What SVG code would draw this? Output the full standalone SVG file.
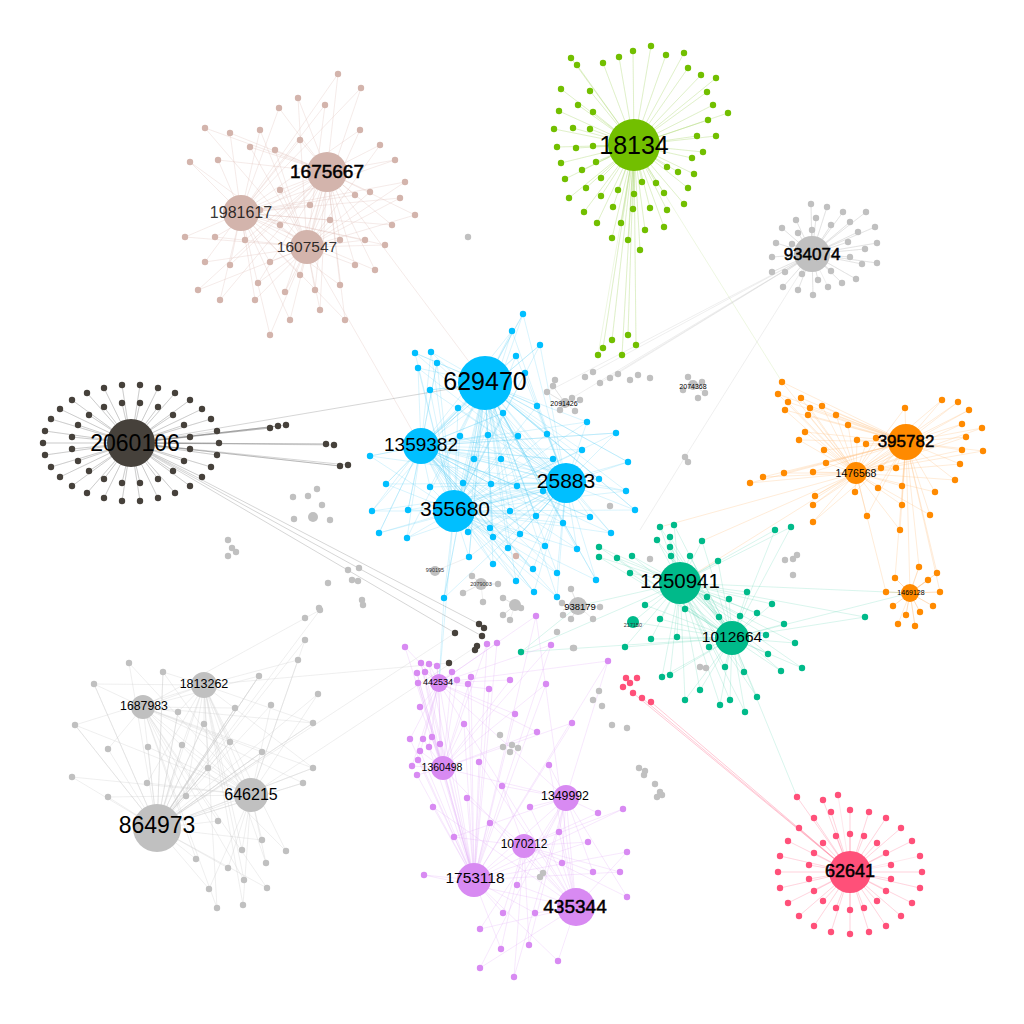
<svg xmlns="http://www.w3.org/2000/svg" width="1024" height="1024" viewBox="0 0 1024 1024">
<style>
.e{fill:none;stroke-width:.6}
.eg{stroke:#9fd060;stroke-opacity:.3}
.eb{stroke:#5fd0f5;stroke-opacity:.4}
.er{stroke:#dcbcb5;stroke-opacity:.5}
.ed{stroke:#777;stroke-opacity:.35}
.el{stroke:#777;stroke-opacity:.5}
.eo{stroke:#ffc080;stroke-opacity:.5}
.et{stroke:#5fd6b2;stroke-opacity:.4}
.ev{stroke:#e2a8f8;stroke-opacity:.45}
.ep{stroke:#ff7f9d;stroke-opacity:.3}
.epl{stroke:#ff7f9d;stroke-opacity:.7}
.ex{stroke:#c8c8c8;stroke-opacity:.5}
.sat circle{r:3.2px}
.sg{fill:#72bf00}.sb{fill:#00bfff}.sr{fill:#d3b4ac}.sd{fill:#46413b}.so{fill:#ff8a00}.st{fill:#00ba8a}.sv{fill:#d88af2}.sp{fill:#ff5079}.sx{fill:#c0c0c0}
.t{font-family:"Liberation Sans",Arial,sans-serif;text-anchor:middle;dominant-baseline:central;fill:#000}
.b{stroke:#000;stroke-width:.5}
.sm{fill:#333}
</style>
<rect width="1024" height="1024" fill="#fff"/>
<g id="connectors">
<path class="e eg" d="M634 145L571 58L634 145L577 65L634 145L603 63L634 145L619 57L634 145L633 51L634 145L651 46L634 145L666 55L634 145L684 53L634 145L688 68L634 145L701 75L634 145L716 78L634 145L707 92L634 145L713 105L634 145L728 113L634 145L708 120L634 145L716 136L634 145L697 136L634 145L703 152L634 145L692 158L634 145L694 174L634 145L688 188L634 145L684 204L634 145L678 172L634 145L667 167L634 145L656 183L634 145L664 193L634 145L667 210L634 145L664 227L634 145L650 208L634 145L634 194L634 145L642 182L634 145L633 209L634 145L621 223L634 145L613 207L634 145L618 190L634 145L601 196L634 145L584 212L634 145L597 223L634 145L569 198L634 145L586 188L634 145L565 179L634 145L582 170L634 145L601 178L634 145L596 162L634 145L561 163L634 145L576 148L634 145L557 147L634 145L593 146L634 145L554 129L634 145L573 128L634 145L590 129L634 145L559 111L634 145L578 105L634 145L593 112L634 145L561 89L634 145L590 91L634 145L645 230L634 145L628 240L634 145L612 238L634 145L640 250L634 145L603 348L634 145L612 340L634 145L622 355L634 145L636 345L634 145L628 335L634 145L598 355M634 145L782 382"/>
<path class="e er" d="M327 172L338 74L241 213L361 88L307 247L298 98L327 172L279 108L241 213L325 105L307 247L205 128L327 172L230 133L241 213L260 130L307 247L250 147L327 172L218 160L241 213L190 162L307 247L275 150L327 172L300 140L241 213L360 130L307 247L380 145L327 172L395 160L241 213L405 182L307 247L370 192L327 172L355 195L241 213L400 198L307 247L415 215L327 172L392 225L241 213L365 240L307 247L355 265L327 172L340 285L241 213L185 237L307 247L215 237L327 172L245 240L241 213L270 262L307 247L258 283L327 172L230 265L241 213L205 262L307 247L198 290L327 172L220 300L241 213L255 300L307 247L285 292L327 172L290 320L241 213L270 335L307 247L320 310L327 172L345 320L241 213L260 210L307 247L280 190L327 172L310 205L241 213L330 220L307 247L340 240L327 172L280 225L241 213L300 275L307 247L315 290L327 172L375 270L241 213L385 245L307 247M327 172L241 213L307 247L327 172M327 172L485 383M307 247L421 446"/>
<path class="e eb" d="M485 383L523 314L454 511L512 331L566 483L540 345L421 446L516 356L485 383L415 353L454 511L431 352L566 483L437 363L421 446L418 368L485 383L430 390L454 511L458 408L566 483L503 413L421 446L525 373L485 383L537 406L454 511L587 422L566 483L616 433L421 446L582 450L485 383L547 434L454 511L518 436L566 483L488 435L421 446L460 436L485 383L474 459L454 511L501 459L566 483L553 459L421 446L599 479L485 383L628 462L454 511L463 483L566 483L491 484L421 446L517 486L485 383L543 491L454 511L430 487L566 483L408 510L421 446L510 511L485 383L536 516L454 511L563 523L566 483L590 517L421 446L611 533L485 383L635 510L454 511L468 532L566 483L490 528L421 446L520 534L485 383L386 484L454 511L372 511L566 483L379 533L421 446L407 538L485 383L493 537L454 511L508 548L566 483L545 546L421 446L577 549L485 383L469 557L454 511L493 564L566 483L533 569L421 446L557 573L485 383L596 580L454 511L516 581L566 483L534 592L421 446L557 597L485 383L444 598L454 511L626 491L566 483L370 456L421 446"/>
<path class="e eb" d="M566 483L523 314L485 383L512 331L421 446L540 345L454 511L516 356L566 483L415 353L485 383L431 352L421 446L437 363L454 511L418 368L566 483L430 390L485 383L458 408L421 446L503 413L454 511L525 373L566 483L537 406L485 383L587 422L421 446L616 433L454 511L582 450L566 483L547 434L485 383L518 436L421 446L488 435L454 511L460 436L566 483L474 459L485 383L501 459L421 446L553 459L454 511L599 479L566 483L628 462L485 383L463 483L421 446L491 484L454 511L517 486L566 483L543 491L485 383L430 487L421 446L408 510L454 511L510 511L566 483L536 516L485 383L563 523L421 446L590 517L454 511L611 533L566 483L635 510L485 383L468 532L421 446L490 528L454 511L520 534L566 483L386 484L485 383L372 511L421 446L379 533L454 511L407 538L566 483L493 537L485 383L508 548L421 446L545 546L454 511L577 549L566 483L469 557L485 383L493 564L421 446L533 569L454 511L557 573L566 483L596 580L485 383L516 581L421 446L534 592L454 511L557 597L566 483L444 598L485 383L626 491L421 446L370 456L454 511M485 383L421 446L454 511L566 483L485 383L454 511M421 446L566 483M454 511L439 683M444 598L439 683"/>
<path class="e ed" d="M131 443L219 443L131 443L217 455L131 443L211 467L131 443L202 477L131 443L190 486L131 443L175 493L131 443L158 498L131 443L140 501L131 443L122 501L131 443L104 498L131 443L87 493L131 443L72 486L131 443L60 477L131 443L51 467L131 443L45 455L131 443L43 443L131 443L45 431L131 443L51 419L131 443L60 409L131 443L72 400L131 443L87 393L131 443L104 388L131 443L122 385L131 443L140 385L131 443L158 388L131 443L175 393L131 443L190 400L131 443L202 409L131 443L211 419L131 443L217 431M131 443L190 449L131 443L184 461L131 443L173 471L131 443L158 479L131 443L140 483L131 443L122 483L131 443L104 479L131 443L89 471L131 443L78 461L131 443L72 449L131 443L72 437L131 443L78 425L131 443L89 415L131 443L104 407L131 443L122 403L131 443L140 403L131 443L158 407L131 443L173 415L131 443L184 425L131 443L190 437"/>
<path class="e el" d="M131 443L270 428L131 443L278 426L131 443L286 425M131 443L326 444L131 443L334 445M131 443L340 466L131 443L348 465M131 443L455 633M131 443L479 624M131 443L482 636M131 443L485 383"/>
<path class="e eo" d="M906 442L782 382L856 473L778 394L906 442L788 402L856 473L801 398L906 442L785 410L856 473L810 408L906 442L822 406L856 473L808 415L906 442L836 415L856 473L848 425L906 442L805 432L856 473L799 440L906 442L824 450L856 473L857 440L906 442L866 444L856 473L876 438L906 442L905 408L856 473L942 400L906 442L958 402L856 473L969 410L906 442L962 424L856 473L982 428L906 442L966 437L856 473L962 450L906 442L983 451L856 473L960 464L906 442L896 468L856 473L881 468L906 442L878 488L856 473L902 486L906 442L902 505L856 473L855 492L906 442L815 496L856 473L826 463L906 442L813 472L856 473L784 473L906 442L763 477L856 473L750 483L906 442L813 505L856 473L813 522L906 442L867 516L856 473L930 515L906 442L900 530L856 473L955 480L906 442L935 492L856 473M910 593L919 567L910 593L937 573L910 593L895 578L910 593L928 580L910 593L940 592L910 593L933 606L910 593L920 612L910 593L906 615L910 593L893 606L910 593L886 592L910 593L915 626L910 593L898 624M906 442L919 567M906 442L937 573M906 442L895 578M856 473L886 592M906 442L940 592M906 442L910 593M856 473L680 583M856 473L702 541M856 473L660 527"/>
<path class="e et" d="M680 583L660 527L732 638L674 525L680 583L702 541L732 638L775 530L680 583L791 527L732 638L599 547L680 583L599 557L732 638L617 558L680 583L632 556L732 638L657 540L680 583L670 537L732 638L670 547L680 583L671 556L732 638L690 556L680 583L718 561L732 638L630 573L680 583L747 592L732 638L729 599L680 583L707 597L732 638L645 605L680 583L660 619L732 638L685 609L680 583L719 617L732 638L740 616L680 583L757 613L732 638L772 604L680 583L865 617L732 638L784 624L680 583L766 635L732 638L795 643L680 583L768 654L732 638L802 668L680 583L781 671L732 638L744 672L680 583L725 667L732 638L709 647L680 583L677 637L732 638L651 639L680 583L633 622L732 638L625 647L680 583L662 677L732 638L670 675L680 583L720 705L732 638L745 712L680 583L757 697L732 638L700 690L680 583L685 700L732 638L730 700L680 583L521 652L732 638M680 583L732 638M680 583L578 606M680 583L910 593M732 638L910 593M732 638L797 797M578 606L521 652"/>
<path class="e ev" d="M439 683L405 647L443 768L487 644L474 880L497 643L439 683L551 645L443 768L421 663L474 880L429 664L439 683L437 666L443 768L417 673L474 880L425 672L439 683L452 672L443 768L471 677L474 880L468 684L439 683L457 680L443 768L418 683L474 880L489 689L439 683L510 680L443 768L546 684L474 880L608 661L439 683L420 707L443 768L464 724L474 880L515 714L439 683L537 732L443 768L572 723L474 880L410 739L439 683L423 739L443 768L432 737L474 880L429 747L439 683L440 744L443 768L420 751L474 880L418 760L439 683L412 766L443 768L417 775L474 880L536 616L439 683M474 880L479 762L576 907L549 765L566 798L502 786L524 846L467 798L474 880L433 807L576 907L530 807L566 798L598 813L524 846L623 809L474 880L490 823L576 907L559 832L566 798L454 837L524 846L588 842L474 880L627 852L576 907L562 863L566 798L593 872L524 846L620 872L474 880L424 875L576 907L517 885L566 798L627 897L524 846L503 913L474 880L535 913L576 907L480 929L566 798L529 945L524 846L501 949L474 880L558 961L576 907L480 968L566 798L514 977L524 846M439 683L474 880M439 683L576 907M443 768L474 880M443 768L576 907M443 768L566 798M566 798L576 907M524 846L474 880M524 846L576 907M566 798L474 880M439 683L566 798M566 798L608 661M576 907L536 616M474 880L551 645"/>
<path class="e ep" d="M850 872L922 872L850 872L920 888L850 872L912 903L850 872L901 916L850 872L886 926L850 872L869 932L850 872L850 934L850 872L831 932L850 872L814 926L850 872L799 916L850 872L788 903L850 872L780 888L850 872L778 872L850 872L780 856L850 872L788 841L850 872L799 828L850 872L814 818L850 872L831 812L850 872L850 810L850 872L869 812L850 872L886 818L850 872L901 828L850 872L912 841L850 872L920 856M850 872L891 879L850 872L886 891L850 872L877 901L850 872L864 908L850 872L850 910L850 872L836 908L850 872L823 901L850 872L814 891L850 872L809 879L850 872L809 865L850 872L814 853L850 872L823 843L850 872L836 836L850 872L850 834L850 872L864 836L850 872L877 843L850 872L886 853L850 872L891 865M850 872L797 797L850 872L823 800L850 872L838 795"/>
<path class="e epl" d="M850 872L651 702M850 872L642 698M850 872L633 693"/>
<path class="e ex" d="M157 828L129 663L251 795L163 672L204 685L94 684L143 707L259 676L157 828L318 694L251 795L75 725L204 685L178 712L143 707L235 708L157 828L271 705L251 795L204 724L204 685L313 723L143 707L108 749L157 828L148 747L251 795L182 745L204 685L230 742L143 707L262 752L157 828L72 777L251 795L208 768L204 685L313 768L143 707L303 783L157 828L108 797L251 795L147 783L204 685L186 796L143 707L218 821L157 828L262 840L251 795L242 850L204 685L286 851L143 707L196 859L157 828L228 868L251 795L266 863L204 685L244 880L143 707L267 888L157 828L209 889L251 795L243 905L204 685L217 908L143 707L320 610L157 828L305 640L251 795L298 660L204 685M157 828L163 672L157 828L94 684L157 828L259 676L157 828L75 725L157 828L178 712L157 828L235 708L157 828L204 724L157 828L313 723L157 828L182 745L157 828L230 742L157 828L262 752L157 828L208 768L157 828L313 768L157 828L303 783M157 828L251 795L204 685L143 707L157 828L204 685M143 707L251 795M204 685L449 663M157 828L455 633M251 795L477 646"/>
<path class="e ex" d="M812 254L811 204L812 254L827 207L812 254L843 212L812 254L866 212L812 254L796 220L812 254L816 218L812 254L831 225L812 254L850 222L812 254L875 227L812 254L782 228L812 254L798 233L812 254L812 230L812 254L858 232L812 254L776 243L812 254L792 244L812 254L848 242L812 254L865 249L812 254L877 243L812 254L772 257L812 254L850 257L812 254L862 264L812 254L877 263L812 254L772 272L812 254L785 272L812 254L802 274L812 254L831 271L812 254L818 280L812 254L842 283L812 254L856 279L812 254L783 287L812 254L798 290L812 254L813 295L812 254L828 287M812 254L600 383M812 254L610 378M812 254L593 372M812 254L547 392M812 254L572 398M812 254L685 457M685 457L640 530M578 606L563 610L578 606L571 589L578 606L600 607L578 606L571 619L578 606L593 619M565 403L547 392L565 403L553 386L565 403L572 398L565 403L560 410L565 403L575 411M693 385L688 377L693 385L702 382L693 385L705 393L693 385L683 390M481 584L472 576L481 584L463 593L481 584L498 584L481 584L483 602M515 605L503 598L515 605L521 608L515 605L503 615L515 605L510 620M435 571L469 557"/>
</g>
<g id="satellites" class="sat">
<g id="sat-18134" class="sg">
<circle cx="571" cy="58"/><circle cx="577" cy="65"/><circle cx="603" cy="63"/><circle cx="619" cy="57"/><circle cx="633" cy="51"/><circle cx="651" cy="46"/><circle cx="666" cy="55"/><circle cx="684" cy="53"/><circle cx="688" cy="68"/><circle cx="701" cy="75"/><circle cx="716" cy="78"/><circle cx="707" cy="92"/><circle cx="713" cy="105"/><circle cx="728" cy="113"/><circle cx="708" cy="120"/><circle cx="716" cy="136"/><circle cx="697" cy="136"/><circle cx="703" cy="152"/><circle cx="692" cy="158"/><circle cx="694" cy="174"/><circle cx="688" cy="188"/><circle cx="684" cy="204"/><circle cx="678" cy="172"/><circle cx="667" cy="167"/><circle cx="656" cy="183"/><circle cx="664" cy="193"/><circle cx="667" cy="210"/><circle cx="664" cy="227"/><circle cx="650" cy="208"/><circle cx="634" cy="194"/><circle cx="642" cy="182"/><circle cx="633" cy="209"/><circle cx="621" cy="223"/><circle cx="613" cy="207"/><circle cx="618" cy="190"/><circle cx="601" cy="196"/><circle cx="584" cy="212"/><circle cx="597" cy="223"/><circle cx="569" cy="198"/><circle cx="586" cy="188"/><circle cx="565" cy="179"/><circle cx="582" cy="170"/><circle cx="601" cy="178"/><circle cx="596" cy="162"/><circle cx="561" cy="163"/><circle cx="576" cy="148"/><circle cx="557" cy="147"/><circle cx="593" cy="146"/><circle cx="554" cy="129"/><circle cx="573" cy="128"/><circle cx="590" cy="129"/><circle cx="559" cy="111"/><circle cx="578" cy="105"/><circle cx="593" cy="112"/><circle cx="561" cy="89"/><circle cx="590" cy="91"/><circle cx="645" cy="230"/><circle cx="628" cy="240"/><circle cx="612" cy="238"/><circle cx="640" cy="250"/><circle cx="603" cy="348"/><circle cx="612" cy="340"/><circle cx="622" cy="355"/><circle cx="636" cy="345"/><circle cx="628" cy="335"/><circle cx="598" cy="355"/>
</g>
<g id="sat-rosy" class="sr">
<circle cx="338" cy="74"/><circle cx="361" cy="88"/><circle cx="298" cy="98"/><circle cx="279" cy="108"/><circle cx="325" cy="105"/><circle cx="205" cy="128"/><circle cx="230" cy="133"/><circle cx="260" cy="130"/><circle cx="250" cy="147"/><circle cx="218" cy="160"/><circle cx="190" cy="162"/><circle cx="275" cy="150"/><circle cx="300" cy="140"/><circle cx="360" cy="130"/><circle cx="380" cy="145"/><circle cx="395" cy="160"/><circle cx="405" cy="182"/><circle cx="370" cy="192"/><circle cx="355" cy="195"/><circle cx="400" cy="198"/><circle cx="415" cy="215"/><circle cx="392" cy="225"/><circle cx="365" cy="240"/><circle cx="355" cy="265"/><circle cx="340" cy="285"/><circle cx="185" cy="237"/><circle cx="215" cy="237"/><circle cx="245" cy="240"/><circle cx="270" cy="262"/><circle cx="258" cy="283"/><circle cx="230" cy="265"/><circle cx="205" cy="262"/><circle cx="198" cy="290"/><circle cx="220" cy="300"/><circle cx="255" cy="300"/><circle cx="285" cy="292"/><circle cx="290" cy="320"/><circle cx="270" cy="335"/><circle cx="320" cy="310"/><circle cx="345" cy="320"/><circle cx="260" cy="210"/><circle cx="280" cy="190"/><circle cx="310" cy="205"/><circle cx="330" cy="220"/><circle cx="340" cy="240"/><circle cx="280" cy="225"/><circle cx="300" cy="275"/><circle cx="315" cy="290"/><circle cx="375" cy="270"/><circle cx="385" cy="245"/><circle cx="516" cy="556"/>
</g>
<g id="sat-blue" class="sb">
<circle cx="523" cy="314"/><circle cx="512" cy="331"/><circle cx="540" cy="345"/><circle cx="516" cy="356"/><circle cx="415" cy="353"/><circle cx="431" cy="352"/><circle cx="437" cy="363"/><circle cx="418" cy="368"/><circle cx="430" cy="390"/><circle cx="458" cy="408"/><circle cx="503" cy="413"/><circle cx="525" cy="373"/><circle cx="537" cy="406"/><circle cx="587" cy="422"/><circle cx="616" cy="433"/><circle cx="582" cy="450"/><circle cx="547" cy="434"/><circle cx="518" cy="436"/><circle cx="488" cy="435"/><circle cx="460" cy="436"/><circle cx="474" cy="459"/><circle cx="501" cy="459"/><circle cx="553" cy="459"/><circle cx="599" cy="479"/><circle cx="628" cy="462"/><circle cx="463" cy="483"/><circle cx="491" cy="484"/><circle cx="517" cy="486"/><circle cx="543" cy="491"/><circle cx="430" cy="487"/><circle cx="408" cy="510"/><circle cx="510" cy="511"/><circle cx="536" cy="516"/><circle cx="563" cy="523"/><circle cx="590" cy="517"/><circle cx="611" cy="533"/><circle cx="635" cy="510"/><circle cx="468" cy="532"/><circle cx="490" cy="528"/><circle cx="520" cy="534"/><circle cx="386" cy="484"/><circle cx="372" cy="511"/><circle cx="379" cy="533"/><circle cx="407" cy="538"/><circle cx="493" cy="537"/><circle cx="508" cy="548"/><circle cx="545" cy="546"/><circle cx="577" cy="549"/><circle cx="469" cy="557"/><circle cx="493" cy="564"/><circle cx="533" cy="569"/><circle cx="557" cy="573"/><circle cx="596" cy="580"/><circle cx="516" cy="581"/><circle cx="534" cy="592"/><circle cx="557" cy="597"/><circle cx="444" cy="598"/><circle cx="626" cy="491"/><circle cx="370" cy="456"/>
</g>
<g id="sat-2060106" class="sd">
<circle cx="219" cy="443"/><circle cx="217" cy="455"/><circle cx="211" cy="467"/><circle cx="202" cy="477"/><circle cx="190" cy="486"/><circle cx="175" cy="493"/><circle cx="158" cy="498"/><circle cx="140" cy="501"/><circle cx="122" cy="501"/><circle cx="104" cy="498"/><circle cx="87" cy="493"/><circle cx="72" cy="486"/><circle cx="60" cy="477"/><circle cx="51" cy="467"/><circle cx="45" cy="455"/><circle cx="43" cy="443"/><circle cx="45" cy="431"/><circle cx="51" cy="419"/><circle cx="60" cy="409"/><circle cx="72" cy="400"/><circle cx="87" cy="393"/><circle cx="104" cy="388"/><circle cx="122" cy="385"/><circle cx="140" cy="385"/><circle cx="158" cy="388"/><circle cx="175" cy="393"/><circle cx="190" cy="400"/><circle cx="202" cy="409"/><circle cx="211" cy="419"/><circle cx="217" cy="431"/>
<circle cx="190" cy="449"/><circle cx="184" cy="461"/><circle cx="173" cy="471"/><circle cx="158" cy="479"/><circle cx="140" cy="483"/><circle cx="122" cy="483"/><circle cx="104" cy="479"/><circle cx="89" cy="471"/><circle cx="78" cy="461"/><circle cx="72" cy="449"/><circle cx="72" cy="437"/><circle cx="78" cy="425"/><circle cx="89" cy="415"/><circle cx="104" cy="407"/><circle cx="122" cy="403"/><circle cx="140" cy="403"/><circle cx="158" cy="407"/><circle cx="173" cy="415"/><circle cx="184" cy="425"/><circle cx="190" cy="437"/>
<circle cx="270" cy="428"/><circle cx="278" cy="426"/><circle cx="286" cy="425"/><circle cx="326" cy="444"/><circle cx="334" cy="445"/><circle cx="340" cy="466"/><circle cx="348" cy="465"/><circle cx="455" cy="633"/><circle cx="479" cy="624"/><circle cx="484" cy="628"/><circle cx="482" cy="636"/><circle cx="477" cy="646"/><circle cx="475" cy="650"/><circle cx="449" cy="663"/>
</g>
<g id="sat-orange" class="so">
<circle cx="782" cy="382"/><circle cx="778" cy="394"/><circle cx="788" cy="402"/><circle cx="801" cy="398"/><circle cx="785" cy="410"/><circle cx="810" cy="408"/><circle cx="822" cy="406"/><circle cx="808" cy="415"/><circle cx="836" cy="415"/><circle cx="848" cy="425"/><circle cx="805" cy="432"/><circle cx="799" cy="440"/><circle cx="824" cy="450"/><circle cx="857" cy="440"/><circle cx="866" cy="444"/><circle cx="876" cy="438"/><circle cx="905" cy="408"/><circle cx="942" cy="400"/><circle cx="958" cy="402"/><circle cx="969" cy="410"/><circle cx="962" cy="424"/><circle cx="982" cy="428"/><circle cx="966" cy="437"/><circle cx="962" cy="450"/><circle cx="983" cy="451"/><circle cx="960" cy="464"/><circle cx="896" cy="468"/><circle cx="881" cy="468"/><circle cx="878" cy="488"/><circle cx="902" cy="486"/><circle cx="902" cy="505"/><circle cx="855" cy="492"/><circle cx="815" cy="496"/><circle cx="826" cy="463"/><circle cx="813" cy="472"/><circle cx="784" cy="473"/><circle cx="763" cy="477"/><circle cx="750" cy="483"/><circle cx="813" cy="505"/><circle cx="813" cy="522"/><circle cx="867" cy="516"/><circle cx="930" cy="515"/><circle cx="900" cy="530"/><circle cx="955" cy="480"/><circle cx="935" cy="492"/>
<circle cx="919" cy="567"/><circle cx="937" cy="573"/><circle cx="895" cy="578"/><circle cx="928" cy="580"/><circle cx="940" cy="592"/><circle cx="933" cy="606"/><circle cx="920" cy="612"/><circle cx="906" cy="615"/><circle cx="893" cy="606"/><circle cx="886" cy="592"/><circle cx="915" cy="626"/><circle cx="898" cy="624"/>
</g>
<g id="sat-teal" class="st">
<circle cx="660" cy="527"/><circle cx="674" cy="525"/><circle cx="702" cy="541"/><circle cx="775" cy="530"/><circle cx="791" cy="527"/><circle cx="599" cy="547"/><circle cx="599" cy="557"/><circle cx="617" cy="558"/><circle cx="632" cy="556"/><circle cx="657" cy="540"/><circle cx="670" cy="537"/><circle cx="670" cy="547"/><circle cx="671" cy="556"/><circle cx="690" cy="556"/><circle cx="718" cy="561"/><circle cx="630" cy="573"/><circle cx="747" cy="592"/><circle cx="729" cy="599"/><circle cx="707" cy="597"/><circle cx="645" cy="605"/><circle cx="660" cy="619"/><circle cx="685" cy="609"/><circle cx="719" cy="617"/><circle cx="740" cy="616"/><circle cx="757" cy="613"/><circle cx="772" cy="604"/><circle cx="865" cy="617"/><circle cx="784" cy="624"/><circle cx="766" cy="635"/><circle cx="795" cy="643"/><circle cx="768" cy="654"/><circle cx="802" cy="668"/><circle cx="781" cy="671"/><circle cx="744" cy="672"/><circle cx="725" cy="667"/><circle cx="709" cy="647"/><circle cx="677" cy="637"/><circle cx="651" cy="639"/><circle cx="633" cy="622" style="r:6px"/><circle cx="625" cy="647"/><circle cx="662" cy="677"/><circle cx="670" cy="675"/><circle cx="720" cy="705"/><circle cx="745" cy="712"/><circle cx="757" cy="697"/><circle cx="700" cy="690"/><circle cx="685" cy="700"/><circle cx="730" cy="700"/><circle cx="521" cy="652"/>
</g>
<g id="sat-violet" class="sv">
<circle cx="405" cy="647"/><circle cx="487" cy="644"/><circle cx="497" cy="643"/><circle cx="551" cy="645"/><circle cx="421" cy="663"/><circle cx="429" cy="664"/><circle cx="437" cy="666"/><circle cx="417" cy="673"/><circle cx="425" cy="672"/><circle cx="452" cy="672"/><circle cx="471" cy="677"/><circle cx="468" cy="684"/><circle cx="457" cy="680"/><circle cx="418" cy="683"/><circle cx="489" cy="689"/><circle cx="510" cy="680"/><circle cx="546" cy="684"/><circle cx="608" cy="661"/><circle cx="420" cy="707"/><circle cx="464" cy="724"/><circle cx="515" cy="714"/><circle cx="537" cy="732"/><circle cx="572" cy="723"/><circle cx="410" cy="739"/><circle cx="423" cy="739"/><circle cx="432" cy="737"/><circle cx="429" cy="747"/><circle cx="440" cy="744"/><circle cx="420" cy="751"/><circle cx="418" cy="760"/><circle cx="412" cy="766"/><circle cx="417" cy="775"/><circle cx="479" cy="762"/><circle cx="549" cy="765"/><circle cx="502" cy="786"/><circle cx="467" cy="798"/><circle cx="433" cy="807"/><circle cx="530" cy="807"/><circle cx="598" cy="813"/><circle cx="623" cy="809"/><circle cx="490" cy="823"/><circle cx="559" cy="832"/><circle cx="454" cy="837"/><circle cx="588" cy="842"/><circle cx="627" cy="852"/><circle cx="562" cy="863"/><circle cx="593" cy="872"/><circle cx="620" cy="872"/><circle cx="424" cy="875"/><circle cx="517" cy="885"/><circle cx="627" cy="897"/><circle cx="503" cy="913"/><circle cx="535" cy="913"/><circle cx="480" cy="929"/><circle cx="529" cy="945"/><circle cx="501" cy="949"/><circle cx="558" cy="961"/><circle cx="480" cy="968"/><circle cx="514" cy="977"/><circle cx="536" cy="616"/>
</g>
<g id="sat-62641" class="sp">
<circle cx="922" cy="872"/><circle cx="920" cy="888"/><circle cx="912" cy="903"/><circle cx="901" cy="916"/><circle cx="886" cy="926"/><circle cx="869" cy="932"/><circle cx="850" cy="934"/><circle cx="831" cy="932"/><circle cx="814" cy="926"/><circle cx="799" cy="916"/><circle cx="788" cy="903"/><circle cx="780" cy="888"/><circle cx="778" cy="872"/><circle cx="780" cy="856"/><circle cx="788" cy="841"/><circle cx="799" cy="828"/><circle cx="814" cy="818"/><circle cx="831" cy="812"/><circle cx="850" cy="810"/><circle cx="869" cy="812"/><circle cx="886" cy="818"/><circle cx="901" cy="828"/><circle cx="912" cy="841"/><circle cx="920" cy="856"/>
<circle cx="891" cy="879"/><circle cx="886" cy="891"/><circle cx="877" cy="901"/><circle cx="864" cy="908"/><circle cx="850" cy="910"/><circle cx="836" cy="908"/><circle cx="823" cy="901"/><circle cx="814" cy="891"/><circle cx="809" cy="879"/><circle cx="809" cy="865"/><circle cx="814" cy="853"/><circle cx="823" cy="843"/><circle cx="836" cy="836"/><circle cx="850" cy="834"/><circle cx="864" cy="836"/><circle cx="877" cy="843"/><circle cx="886" cy="853"/><circle cx="891" cy="865"/>
<circle cx="797" cy="797"/><circle cx="823" cy="800"/><circle cx="838" cy="795"/><circle cx="626" cy="678"/><circle cx="630" cy="683"/><circle cx="623" cy="687"/><circle cx="637" cy="678"/><circle cx="633" cy="693"/><circle cx="642" cy="698"/><circle cx="651" cy="702"/>
</g>
<g id="sat-gray" class="sx">
<circle cx="129" cy="663"/><circle cx="163" cy="672"/><circle cx="94" cy="684"/><circle cx="259" cy="676"/><circle cx="318" cy="694"/><circle cx="75" cy="725"/><circle cx="178" cy="712"/><circle cx="235" cy="708"/><circle cx="271" cy="705"/><circle cx="204" cy="724"/><circle cx="313" cy="723"/><circle cx="108" cy="749"/><circle cx="148" cy="747"/><circle cx="182" cy="745"/><circle cx="230" cy="742"/><circle cx="262" cy="752"/><circle cx="72" cy="777"/><circle cx="208" cy="768"/><circle cx="313" cy="768"/><circle cx="303" cy="783"/><circle cx="108" cy="797"/><circle cx="147" cy="783"/><circle cx="186" cy="796"/><circle cx="218" cy="821"/><circle cx="262" cy="840"/><circle cx="242" cy="850"/><circle cx="286" cy="851"/><circle cx="196" cy="859"/><circle cx="228" cy="868"/><circle cx="266" cy="863"/><circle cx="244" cy="880"/><circle cx="267" cy="888"/><circle cx="209" cy="889"/><circle cx="243" cy="905"/><circle cx="217" cy="908"/><circle cx="320" cy="610"/><circle cx="305" cy="640"/><circle cx="298" cy="660"/>
<circle cx="811" cy="204"/><circle cx="827" cy="207"/><circle cx="843" cy="212"/><circle cx="866" cy="212"/><circle cx="796" cy="220"/><circle cx="816" cy="218"/><circle cx="831" cy="225"/><circle cx="850" cy="222"/><circle cx="875" cy="227"/><circle cx="782" cy="228"/><circle cx="798" cy="233"/><circle cx="812" cy="230"/><circle cx="858" cy="232"/><circle cx="776" cy="243"/><circle cx="792" cy="244"/><circle cx="848" cy="242"/><circle cx="865" cy="249"/><circle cx="877" cy="243"/><circle cx="772" cy="257"/><circle cx="850" cy="257"/><circle cx="862" cy="264"/><circle cx="877" cy="263"/><circle cx="772" cy="272"/><circle cx="785" cy="272"/><circle cx="802" cy="274"/><circle cx="831" cy="271"/><circle cx="818" cy="280"/><circle cx="842" cy="283"/><circle cx="856" cy="279"/><circle cx="783" cy="287"/><circle cx="798" cy="290"/><circle cx="813" cy="295"/><circle cx="828" cy="287"/>
<circle cx="468" cy="237"/><circle cx="547" cy="392"/><circle cx="553" cy="386"/><circle cx="572" cy="398"/><circle cx="580" cy="400"/><circle cx="560" cy="410"/><circle cx="575" cy="411"/><circle cx="585" cy="377"/><circle cx="555" cy="380"/><circle cx="610" cy="378"/><circle cx="618" cy="374"/><circle cx="630" cy="380"/><circle cx="638" cy="375"/><circle cx="650" cy="378"/><circle cx="600" cy="383"/><circle cx="593" cy="372"/><circle cx="688" cy="377"/><circle cx="702" cy="382"/><circle cx="705" cy="393"/><circle cx="683" cy="390"/><circle cx="698" cy="398"/><circle cx="685" cy="457"/><circle cx="688" cy="462"/>
<circle cx="293" cy="497"/><circle cx="308" cy="496"/><circle cx="322" cy="505"/><circle cx="313" cy="517" style="r:5px"/><circle cx="294" cy="519"/><circle cx="330" cy="520"/><circle cx="317" cy="489"/><circle cx="228" cy="540"/><circle cx="232" cy="548"/><circle cx="228" cy="556"/><circle cx="236" cy="552"/>
<circle cx="348" cy="570"/><circle cx="359" cy="568"/><circle cx="352" cy="580"/><circle cx="358" cy="581"/><circle cx="328" cy="583"/><circle cx="362" cy="600"/><circle cx="363" cy="605"/><circle cx="319" cy="608"/><circle cx="305" cy="618"/><circle cx="435" cy="571" style="r:5px"/><circle cx="472" cy="576"/><circle cx="481" cy="584" style="r:6px"/><circle cx="463" cy="593"/><circle cx="498" cy="584"/><circle cx="483" cy="602"/><circle cx="503" cy="598"/><circle cx="515" cy="605" style="r:6px"/><circle cx="521" cy="608"/><circle cx="503" cy="615"/><circle cx="510" cy="620"/><circle cx="571" cy="589"/><circle cx="562" cy="603"/><circle cx="600" cy="607"/><circle cx="571" cy="619"/><circle cx="593" cy="619"/><circle cx="563" cy="615"/><circle cx="557" cy="632"/><circle cx="610" cy="506"/><circle cx="650" cy="559"/><circle cx="573" cy="648"/>
<circle cx="785" cy="560"/><circle cx="793" cy="559"/><circle cx="797" cy="555"/><circle cx="793" cy="575"/><circle cx="700" cy="667"/><circle cx="706" cy="668"/><circle cx="574" cy="648"/><circle cx="599" cy="691"/><circle cx="593" cy="700"/><circle cx="602" cy="706"/><circle cx="612" cy="725"/><circle cx="627" cy="728"/><circle cx="500" cy="735"/><circle cx="503" cy="747"/><circle cx="512" cy="745"/><circle cx="510" cy="752"/><circle cx="518" cy="748"/><circle cx="639" cy="768"/><circle cx="645" cy="771"/><circle cx="644" cy="775"/><circle cx="655" cy="784"/><circle cx="660" cy="792"/><circle cx="657" cy="797"/><circle cx="662" cy="795"/><circle cx="543" cy="873"/><circle cx="540" cy="877"/>
</g>
</g>
<g id="hubs">
<g id="n18134"><circle cx="634" cy="145" r="26" fill="#72bf00"/><text class="t" x="634" y="145" font-size="25">18134</text></g>
<g id="n934074"><circle cx="812" cy="254" r="18" fill="#c0c0c0"/><text class="t b" x="812" y="254" font-size="17">934074</text></g>
<g id="n1675667"><circle cx="327" cy="172" r="20" fill="#d3b4ac"/><text class="t b" x="327" y="171" font-size="19">1675667</text></g>
<g id="n1981617"><circle cx="241" cy="213" r="18" fill="#d3b4ac"/><text class="t" x="241" y="212" font-size="16" fill-opacity=".8">1981617</text></g>
<g id="n1607547"><circle cx="307" cy="247" r="17" fill="#d3b4ac"/><text class="t" x="307" y="246" font-size="15.5" fill-opacity=".8">1607547</text></g>
<g id="n629470"><circle cx="485" cy="383" r="27" fill="#00bfff"/><text class="t" x="485" y="381" font-size="25">629470</text></g>
<g id="n1359382"><circle cx="421" cy="446" r="18" fill="#00bfff"/><text class="t" x="421" y="444" font-size="19">1359382</text></g>
<g id="n25883"><circle cx="566" cy="483" r="20" fill="#00bfff"/><text class="t" x="566" y="480" font-size="21">25883</text></g>
<g id="n355680"><circle cx="454" cy="511" r="21" fill="#00bfff"/><text class="t" x="455" y="508" font-size="21">355680</text></g>
<g id="n2060106"><circle cx="131" cy="443" r="24" fill="#46413b"/><text class="t" x="135" y="443" font-size="23">2060106</text></g>
<g id="n395782"><circle cx="906" cy="442" r="18" fill="#ff8a00"/><text class="t b" x="906" y="441" font-size="17">395782</text></g>
<g id="n1476568"><circle cx="856" cy="473" r="11" fill="#ff8a00"/><text class="t" x="856" y="473" font-size="10.5">1476568</text></g>
<g id="n1469128"><circle cx="910" cy="593" r="9" fill="#ff8a00"/><text class="t" x="911" y="592" font-size="7">1469128</text></g>
<g id="n1250941"><circle cx="680" cy="583" r="21" fill="#00ba8a"/><text class="t" x="680" y="580" font-size="20.5">1250941</text></g>
<g id="n1012664"><circle cx="732" cy="638" r="17" fill="#00ba8a"/><text class="t" x="732" y="636" font-size="15.5">1012664</text></g>
<g id="n938179"><circle cx="578" cy="606" r="9" fill="#c0c0c0"/><text class="t" x="580" y="606" font-size="9.5">938179</text></g>
<g id="n2091426"><circle cx="565" cy="403" r="5" fill="#c0c0c0"/><text class="t" x="564" y="403" font-size="7">2091426</text></g>
<g id="n2074368"><circle cx="693" cy="385" r="5" fill="#c0c0c0"/><text class="t" x="693" y="386" font-size="7">2074368</text></g>
<g id="n990195"><text class="t sm" x="435" y="570" font-size="5.5">990195</text></g>
<g id="n2079003"><text class="t sm" x="481" y="584" font-size="5.5">2079003</text></g>
<g id="n217150"><text class="t sm" x="633" y="625" font-size="5.5">217150</text></g>
<g id="n442534"><circle cx="439" cy="683" r="9" fill="#d88af2"/><text class="t" x="438" y="682" font-size="9">442534</text></g>
<g id="n1360498"><circle cx="443" cy="768" r="12" fill="#d88af2"/><text class="t" x="442" y="767" font-size="10.5">1360498</text></g>
<g id="n1349992"><circle cx="566" cy="798" r="13" fill="#d88af2"/><text class="t" x="565" y="796" font-size="12.3">1349992</text></g>
<g id="n1070212"><circle cx="524" cy="846" r="12" fill="#d88af2"/><text class="t" x="524" y="844" font-size="12">1070212</text></g>
<g id="n1753118"><circle cx="474" cy="880" r="17" fill="#d88af2"/><text class="t" x="475" y="877" font-size="15.5">1753118</text></g>
<g id="n435344"><circle cx="576" cy="907" r="19" fill="#d88af2"/><text class="t b" x="575" y="906" font-size="19">435344</text></g>
<g id="n62641"><circle cx="850" cy="872" r="21" fill="#ff5079"/><text class="t b" x="850" y="871" font-size="18">62641</text></g>
<g id="n1813262"><circle cx="204" cy="685" r="13" fill="#c0c0c0"/><text class="t" x="204" y="684" font-size="12.5">1813262</text></g>
<g id="n1687983"><circle cx="143" cy="707" r="12" fill="#c0c0c0"/><text class="t" x="144" y="706" font-size="12.3">1687983</text></g>
<g id="n646215"><circle cx="251" cy="795" r="17" fill="#c0c0c0"/><text class="t" x="251" y="794" font-size="16">646215</text></g>
<g id="n864973"><circle cx="157" cy="828" r="24" fill="#c0c0c0"/><text class="t" x="157" y="825" font-size="23">864973</text></g>
</g>
</svg>
